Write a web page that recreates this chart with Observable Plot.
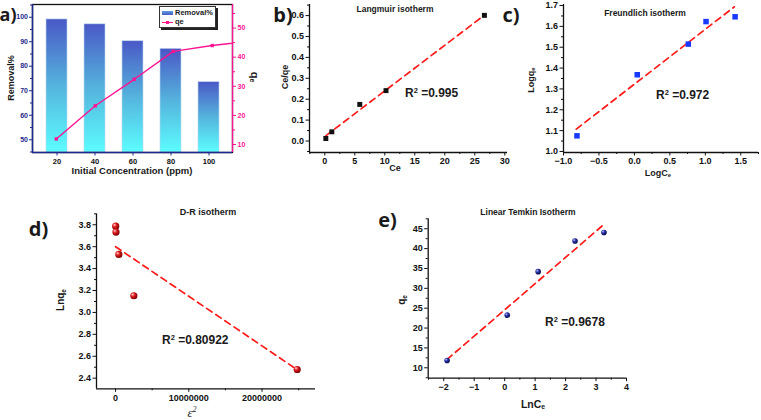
<!DOCTYPE html>
<html><head><meta charset="utf-8">
<script src="https://cdn.jsdelivr.net/npm/d3@7"></script>
<script src="https://cdn.jsdelivr.net/npm/@observablehq/plot@0.6"></script>
<style>
body{margin:0;background:#fff;}
#root{position:relative;width:761px;height:420px;overflow:hidden;background:#fff;font-family:"Liberation Sans",Arial,sans-serif;}
.t{position:absolute;white-space:nowrap;font-weight:bold;color:#1a1a1a;line-height:1;}
.t sub{font-size:65%;vertical-align:-0.25em;}
.t sup{font-size:62%;vertical-align:0.55em;}
</style></head><body><div id="root"></div><script>
// ---------- data ----------
const concentrations = ["20", "40", "60", "80", "100"];
const removal = [99.1, 97.1, 90.2, 87.1, 73.5];
const qeConc = [20, 40, 60, 80, 100, 120];
const qe = [11.9, 23.3, 32.4, 42.0, 44.0, 45.5];

const langCe = [0.17, 1.17, 5.83, 10.2, 26.6];
const langCeQe = [0.012, 0.044, 0.175, 0.241, 0.601];
const langFitX = [0.2, 26.6];
const langFitY = [0.026, 0.602];

const frLogCe = [-0.81, 0.04, 0.76, 1.01, 1.42];
const frLogQe = [1.075, 1.368, 1.515, 1.623, 1.646];
const frFitX = [-0.82, 1.41];
const frFitY = [1.107, 1.694];

const drEps2 = [20000, 60000, 450000, 2500000, 24800000];
const drLnQe = [3.787, 3.733, 3.529, 3.152, 2.479];
const drFitX = [0, 24300000];
const drFitY = [3.60, 2.50];

const tkLnCe = [-1.89, 0.085, 1.10, 2.31, 3.26];
const tkQe = [11.84, 23.25, 34.2, 41.9, 44.07];
const tkFitX = [-1.89, 3.29];
const tkFitY = [12.1, 46.3];

// tick labels
const aLeftTicks = [50, 60, 70, 80, 90, 100];
const aRightTicks = [10, 20, 30, 40, 50];
const bXTicks = [0, 5, 10, 15, 20, 25, 30];
const bYTicks = [0, 0.1, 0.2, 0.3, 0.4, 0.5, 0.6];
const cXTicks = [-1.0, -0.5, 0.0, 0.5, 1.0, 1.5];
const cYTicks = [1.0, 1.1, 1.2, 1.3, 1.4, 1.5, 1.6, 1.7];
const dXTicks = [0, 10000000, 20000000];
const dYTicks = [2.4, 2.6, 2.8, 3.0, 3.2, 3.4, 3.6, 3.8];
const eXTicks = [-2, -1, 0, 1, 2, 3, 4];
const eYTicks = [10, 15, 20, 25, 30, 35, 40, 45];

// ---------- helpers ----------
const root = document.getElementById("root");
const FONT = "Liberation Sans, Arial, sans-serif";
const pairs = (xs, ys) => xs.map((x, i) => ({x, y: ys[i]}));
const minorOf = (ticks, dom) => {
  const step = ticks[1] - ticks[0];
  const out = [];
  for (let v = ticks[0] - step / 2; v <= dom[1] + 1e-9; v += step) if (v >= dom[0] - 1e-9) out.push(+v.toFixed(6));
  return out;
};
function place(svg, left, top) {
  svg.style.position = "absolute";
  svg.style.left = left + "px";
  svg.style.top = top + "px";
  root.appendChild(svg);
}
function text(html, x, y, o = {}) {
  const d = document.createElement("div");
  d.className = "t";
  d.innerHTML = html;
  d.style.left = x + "px";
  d.style.top = y + "px";
  d.style.fontSize = (o.size || 9) + "px";
  if (o.color) d.style.color = o.color;
  if (o.family) d.style.fontFamily = o.family;
  if (o.italic) d.style.fontStyle = "italic";
  if (o.weight) d.style.fontWeight = o.weight;
  const tx = o.anchor === "start" ? "0" : "-50%";
  d.style.transform = `translate(${tx},-50%)` + (o.rotate ? ` rotate(${o.rotate}deg)` : "");
  root.appendChild(d);
}
function axesMarks(xd, yd, xT, yT, xFmt, yFmt) {
  const ax = {fontSize: 9, fontWeight: "bold", label: null, stroke: "#111", strokeWidth: 1};
  return [
    Plot.axisX(minorOf(xT, xd), {...ax, tickSize: 2, tickFormat: () => ""}),
    Plot.axisX(xT, {...ax, tickSize: 3.5, tickPadding: 2, tickFormat: xFmt}),
    Plot.axisY(minorOf(yT, yd), {...ax, tickSize: 2, tickFormat: () => ""}),
    Plot.axisY(yT, {...ax, tickSize: 3.5, tickPadding: 2, tickFormat: yFmt}),
    Plot.ruleX([xd[0]], {stroke: "#111", strokeWidth: 1.3}),
    Plot.ruleY([yd[0]], {stroke: "#111", strokeWidth: 1.3})
  ];
}
const baseStyle = {fontFamily: FONT, fontWeight: "bold", fontSize: "9px", background: "transparent", overflow: "visible", color: "#111"};
const dash = {stroke: "#ff1a1a", strokeWidth: 1.7, strokeDasharray: "6.5,4.5"};

// gradients
const defs = d3.select(root).append("svg").attr("width", 0).attr("height", 0).style("position", "absolute").append("defs");
const bg = defs.append("linearGradient").attr("id", "barGrad").attr("x1", 0).attr("y1", 0).attr("x2", 0).attr("y2", 1);
bg.append("stop").attr("offset", "0").attr("stop-color", "#4a58c6");
bg.append("stop").attr("offset", "0.5").attr("stop-color", "#55b3dd");
bg.append("stop").attr("offset", "1").attr("stop-color", "#5cfdff");
function ball(id, c0, c1, c2) {
  const g = defs.append("radialGradient").attr("id", id).attr("cx", 0.4).attr("cy", 0.4).attr("r", 0.6).attr("fx", 0.32).attr("fy", 0.3);
  g.append("stop").attr("offset", "0").attr("stop-color", c0);
  g.append("stop").attr("offset", "0.45").attr("stop-color", c1);
  g.append("stop").attr("offset", "1").attr("stop-color", c2);
}
ball("redBall", "#ffd6d6", "#e0181c", "#7a0000");
ball("blueBall", "#c8ccff", "#2630a8", "#080c48");

// ---------- panel a ----------
const aX = [7.8, 110.4], aY = [44.8, 105.2], aY2 = [7.25, 58.1];
const aW = 262, aH = 175, aM = {marginLeft: 32, marginRight: 30, marginTop: 4, marginBottom: 23};
const NAVY = "#1f2a8c", PINK = "#ff1493";
const barData = concentrations.map((c, i) => ({c, v: removal[i]}));
place(Plot.plot({
  width: aW, height: aH, ...aM, style: baseStyle,
  x: {type: "band", domain: concentrations, paddingInner: 0.46, paddingOuter: 0.3, axis: null},
  y: {domain: aY, axis: null},
  marks: [
    Plot.barY(barData, {x: "c", y1: () => aY[0], y2: "v", fill: "url(#barGrad)", stroke: "#b9d6ee", strokeWidth: 0.6}),
    Plot.frame({stroke: "#111", strokeWidth: 1.3}),
    Plot.axisX({fontSize: 7.5, fontWeight: "bold", label: null, tickSize: 3.5, tickPadding: 2.5, stroke: NAVY}),
    Plot.axisY(minorOf(aLeftTicks, aY), {tickSize: 2, tickFormat: () => "", label: null, stroke: NAVY}),
    Plot.axisY(aLeftTicks, {fontSize: 7, fontWeight: "bold", label: null, tickSize: 3, tickPadding: 1.5, stroke: NAVY, fill: NAVY}),
    Plot.ruleY([aY[0]], {stroke: NAVY, strokeWidth: 1.5})
  ]
}), 0, 0);
place(Plot.plot({
  width: aW, height: aH, ...aM, style: baseStyle,
  x: {domain: aX, axis: null},
  y: {domain: aY2, axis: null},
  marks: [
    Plot.ruleX([aX[0]], {stroke: NAVY, strokeWidth: 1.5}),
    Plot.ruleX([aX[1]], {stroke: PINK, strokeWidth: 1.3}),
    Plot.axisY(minorOf(aRightTicks, aY2), {anchor: "right", tickSize: 2, tickFormat: () => "", label: null, stroke: PINK}),
    Plot.axisY(aRightTicks, {anchor: "right", fontSize: 7, fontWeight: "bold", label: null, tickSize: 3, tickPadding: 2, stroke: PINK, fill: PINK}),
    Plot.line(pairs(qeConc, qe), {x: "x", y: "y", stroke: PINK, strokeWidth: 1.4, clip: true}),
    Plot.dot(pairs(qeConc, qe), {x: "x", y: "y", symbol: "square", r: 1.9, fill: PINK, clip: true})
  ]
}), 0, 0);
// legend
const leg = document.createElement("div");
leg.style.cssText = "position:absolute;left:159px;top:6px;width:55px;height:20px;border:1px solid #333;background:#fff;box-shadow:2px 2px 0 #222;";
root.appendChild(leg);
const sw = document.createElement("div");
sw.style.cssText = "position:absolute;left:162px;top:10.5px;width:11px;height:4px;background:linear-gradient(#5aa0e0,#4a58c6);";
root.appendChild(sw);
const ln = document.createElement("div");
ln.style.cssText = `position:absolute;left:162px;top:21.5px;width:11px;height:1.4px;background:${PINK};`;
root.appendChild(ln);
const mk = document.createElement("div");
mk.style.cssText = `position:absolute;left:166px;top:20.5px;width:3.4px;height:3.4px;background:${PINK};`;
root.appendChild(mk);
text("Removal%", 175, 12.5, {anchor: "start", size: 7.5});
text("qe", 175, 22, {anchor: "start", size: 7.5});
text("a)", 8, 14, {size: 18, family: "Open Sans, sans-serif"});
text("Removal%", 11, 78, {size: 9, rotate: -90});
text("q<sub>e</sub>", 254, 77, {size: 11, rotate: 90});
text("Initial Concentration (ppm)", 132, 171, {size: 9.5});

// ---------- panel b ----------
const bX = [-2.55, 30.45], bY = [-0.055, 0.653];
place(Plot.plot({
  width: 255, height: 180, marginLeft: 54, marginRight: 3, marginTop: 4, marginBottom: 28, style: baseStyle,
  x: {domain: bX, axis: null}, y: {domain: bY, axis: null},
  marks: [
    ...axesMarks(bX, bY, bXTicks, bYTicks, d3.format("d"), d3.format(".1f")),
    Plot.line(pairs(langFitX, langFitY), {x: "x", y: "y", ...dash}),
    Plot.dot(pairs(langCe, langCeQe), {x: "x", y: "y", symbol: "square", r: 2.8, fill: "#111"})
  ]
}), 255, 0);
text("b)", 283, 15, {size: 20, family: "Open Sans, sans-serif"});
text("Langmuir isotherm", 395, 9, {size: 8.5});
text("Ce/qe", 285, 77, {size: 9, rotate: -90});
text("Ce", 395, 168, {size: 9});
text("R<sup>2</sup> =0.995", 405, 93, {anchor: "start", size: 12});

// ---------- panel c ----------
const cX = [-1.0, 1.75], cY = [0.995, 1.705];
place(Plot.plot({
  width: 256, height: 180, marginLeft: 58, marginRight: 3, marginTop: 4, marginBottom: 28, style: baseStyle,
  x: {domain: cX, axis: null}, y: {domain: cY, axis: null},
  marks: [
    ...axesMarks(cX, cY, cXTicks, cYTicks, d3.format(".1f"), d3.format(".1f")),
    Plot.line(pairs(frFitX, frFitY), {x: "x", y: "y", ...dash}),
    Plot.dot(pairs(frLogCe, frLogQe), {x: "x", y: "y", symbol: "square", r: 3.1, fill: "#1638ff"})
  ]
}), 505, 0);
text("c)", 511, 15, {size: 20, family: "Open Sans, sans-serif"});
text("Freundlich isotherm", 645, 13, {size: 8.5});
text("Logq<sub>e</sub>", 532, 80, {size: 9, rotate: -90});
text("LogC<sub>e</sub>", 658, 174, {size: 9});
text("R<sup>2</sup> =0.972", 656, 95, {anchor: "start", size: 12});

// ---------- panel d ----------
const dX = [-2600000, 27300000], dY = [2.303, 3.90];
place(Plot.plot({
  width: 330, height: 235, marginLeft: 96, marginRight: 15, marginTop: 28.3, marginBottom: 31.7, style: baseStyle,
  x: {domain: dX, axis: null}, y: {domain: dY, axis: null},
  marks: [
    ...axesMarks(dX, dY, dXTicks, dYTicks, d => String(d), d3.format(".1f")),
    Plot.line(pairs(drFitX, drFitY), {x: "x", y: "y", ...dash}),
    Plot.dot(pairs(drEps2, drLnQe), {x: "x", y: "y", r: 3.6, fill: "url(#redBall)"})
  ]
}), 0, 185);
text("d)", 38.5, 228.5, {size: 20, family: "Open Sans, sans-serif"});
text("D-R isotherm", 208, 212, {size: 9});
text("Lnq<sub>e</sub>", 62, 300, {size: 10, rotate: -90});
text("&epsilon;<sup>2</sup>", 192, 412, {size: 13, family: "Liberation Serif, serif", italic: true, weight: "normal"});
text("R<sup>2</sup> =0.80922", 162, 340, {anchor: "start", size: 12});

// ---------- panel e ----------
const eX = [-2.51, 4.0], eY = [7.38, 47.5];
place(Plot.plot({
  width: 260, height: 235, marginLeft: 47.7, marginRight: 14, marginTop: 33.3, marginBottom: 42.3, style: baseStyle,
  x: {domain: eX, axis: null}, y: {domain: eY, axis: null},
  marks: [
    ...axesMarks(eX, eY, eXTicks, eYTicks, d3.format("d"), d3.format("d")),
    Plot.line(pairs(tkFitX, tkFitY), {x: "x", y: "y", ...dash}),
    Plot.dot(pairs(tkLnCe, tkQe), {x: "x", y: "y", r: 2.8, fill: "url(#blueBall)"})
  ]
}), 380, 185);
text("e)", 387.5, 220, {size: 20, family: "Open Sans, sans-serif"});
text("Linear Temkin Isotherm", 528, 212, {size: 8.5});
text("q<sub>e</sub>", 403, 300, {size: 10, rotate: -90});
text("LnC<sub>e</sub>", 533, 405, {size: 10.5});
text("R<sup>2</sup> =0.9678", 545, 322, {anchor: "start", size: 12});
</script></body></html>
